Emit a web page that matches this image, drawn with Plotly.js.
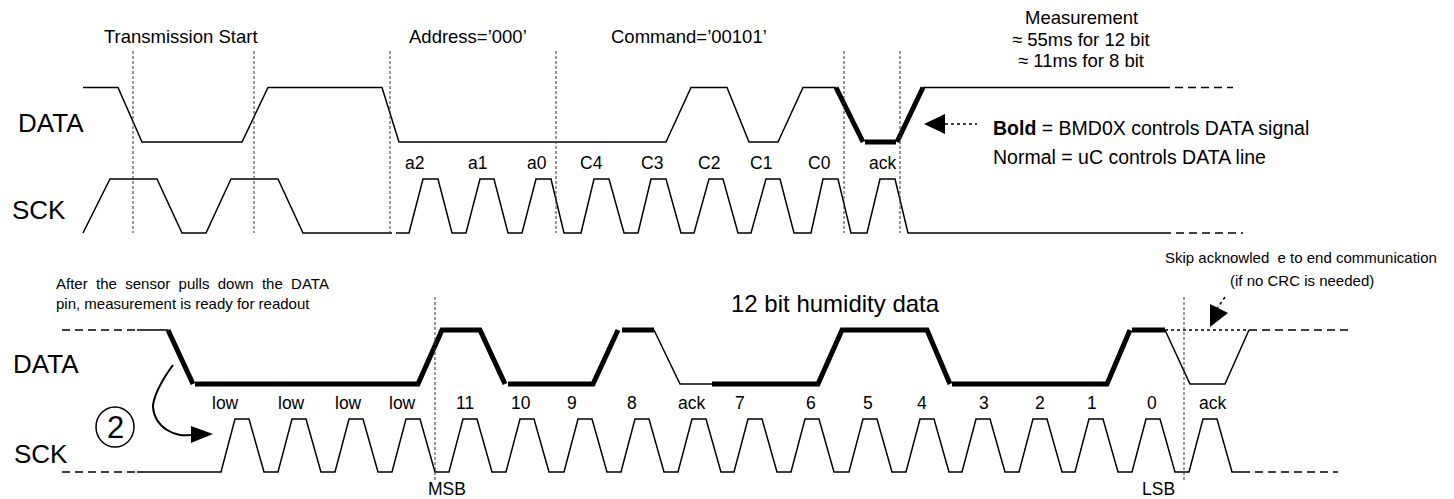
<!DOCTYPE html>
<html><head><meta charset="utf-8">
<script src="https://cdn.plot.ly/plotly-3.0.1.min.js"></script>
<style>html,body{margin:0;padding:0;background:#fff;overflow:hidden}#chart{width:1454px;height:499px}</style>
</head><body><div id="chart"></div>
<script>
// ---------------- DATA (time along the diagram; level 1 = high, 0 = low) ----------------
// Top part: command transmission
const topDataX      = [83,118,142,242,268,382,399,666,691,727,749,778,803,836];
const topDataLvl    = [1,1,0,0,1,1,0,0,1,1,0,0,1,1];
const topDataBoldX  = [836,863,null,865,896,null,897,923];
const topDataBoldLvl= [1,0,null,0,0,null,0,1];
const topDataTailX  = [923,1162];
const topDataTailLvl= [1,1];
const topDataDashX  = [1162,1233];
const topDataDashLvl= [1,1];

const topSckX   = [83,110,157,182,206,231,278,303,392,null,396,409,423,438,452,
                   466,480,494,508, 522,536,551,564, 581,594,609,624, 638,651,666,681,
                   694,709,723,738, 751,766,780,794, 811,823,838,851, 867,880,895,908, 1163];
const topSckLvl = [0,1,1,0,0,1,1,0,0,null,0,0,1,1,0,
                   0,1,1,0, 0,1,1,0, 0,1,1,0, 0,1,1,0,
                   0,1,1,0, 0,1,1,0, 0,1,1,0, 0,1,1,0, 0];
const topSckDashX   = [1163,1243];
const topSckDashLvl = [0,0];

// Bottom part: humidity readout
const botDataDashX   = [62,137,null,1249,1353];
const botDataDashLvl = [1,1,null,1,1];
const botDataThinX   = [137,168,null,654,680,712,null,1165,1190,1225,1249];
const botDataThinLvl = [1,1,null,1,0,0,null,1,0,0,1];
const botDataBoldX   = [168,193,null,195,418,442,480,505,null,508,593,618,null,622,654,null,
                        712,818,842,927,950,null,952,1107,1130,null,1132,1165];
const botDataBoldLvl = [1,0,null,0,0,1,1,0,null,0,0,1,null,1,1,null,
                        0,0,1,1,0,null,0,0,1,null,1,1];
const botDataDotX    = [1165,1249];
const botDataDotLvl  = [1,1];

const botSckX = [137, 221,235,249,264, 278,292,306,321, 335,349,363,378, 392,406,420,435,
                 449,463,477,492, 506,520,534,549, 564,578,592,607, 621,635,649,664,
                 678,692,706,721, 734,748,762,777, 791,805,819,834, 849,863,877,892,
                 906,920,934,949, 962,976,990,1005, 1019,1033,1047,1062, 1075,1089,1103,1118,
                 1132,1146,1160,1175, 1189,1203,1217,1232, 1242];
const botSckLvl = [0, 0,1,1,0, 0,1,1,0, 0,1,1,0, 0,1,1,0,
                   0,1,1,0, 0,1,1,0, 0,1,1,0, 0,1,1,0,
                   0,1,1,0, 0,1,1,0, 0,1,1,0, 0,1,1,0,
                   0,1,1,0, 0,1,1,0, 0,1,1,0, 0,1,1,0,
                   0,1,1,0, 0,1,1,0, 0];
const botSckDashX   = [62,137,null,1242,1338];
const botSckDashLvl = [0,0,null,0,0];

// Bit labels
const topBitLabels = ['a2','a1','a0','C4','C3','C2','C1','C0','ack'];
const topBitX      = [414,477,537,591,652,709,761,819,882];
const botBitLabels = ['low','low','low','low','11','10','9','8','ack','7','6','5','4','3','2','1','0','ack'];
const botBitX      = [225,291,348,402,465,521,572,632,691,740,811,868,922,984,1040,1092,1152,1212];

// Vertical guide times
const topGuideX = [133,254,390,556,844,900];
const botGuideX = [435,1184];

// Arrow / pointer geometry (pixel scale of the annotation axis)
const curveX = [173,163,155,153,157,167,180,191];
const curveY = [365,380,397,407,420,430,435,435];
const curveHeadX = [191,213,191];
const curveHeadY = [426,434,443];
const boldPtrX = [945,977];
const boldPtrY = [124,124];
const boldHeadX = [924,945,945];
const boldHeadY = [124,114,134];
const skipPtrX = [1225,1216];
const skipPtrY = [297,310];
const skipHeadX = [1210,1228,1210];
const skipHeadY = [304,313,327];

// ---------------- LAYOUT ----------------
const W = 1454, H = 499;
const FONT = 'Liberation Sans, Arial, sans-serif';
const PAD = 0.4;
function dom(pLow, pHigh){ const d=(pLow-pHigh)*PAD; return [1-(pLow+d)/H, 1-(pHigh-d)/H]; }
const lvlAxis = d => ({domain:d, range:[-PAD,1+PAD], visible:false, fixedrange:true, anchor:'x'});

const thin = {color:'#000', width:1.5};
const bold = {color:'#000', width:5};
const dash = {color:'#000', width:1.5, dash:'8px,5px'};
const dot  = {color:'#000', width:1.5, dash:'dot'};

function tr(x,y,yaxis,line,extra){ return Object.assign({x:x,y:y,yaxis:yaxis,xaxis:'x',type:'scatter',mode:'lines',line:line,hoverinfo:'skip',showlegend:false,connectgaps:false},extra||{}); }

const traces = [
  tr(topDataX, topDataLvl, 'y', thin),
  tr(topDataBoldX, topDataBoldLvl, 'y', bold),
  tr(topDataTailX, topDataTailLvl, 'y', thin),
  tr(topDataDashX, topDataDashLvl, 'y', dash),
  tr(topSckX, topSckLvl, 'y2', thin),
  tr(topSckDashX, topSckDashLvl, 'y2', dash),
  tr(botDataDashX, botDataDashLvl, 'y3', dash),
  tr(botDataThinX, botDataThinLvl, 'y3', thin),
  tr(botDataBoldX, botDataBoldLvl, 'y3', bold),
  tr(botDataDotX, botDataDotLvl, 'y3', dot),
  tr(botSckX, botSckLvl, 'y4', thin),
  tr(botSckDashX, botSckDashLvl, 'y4', dash),
  tr(curveX, curveY, 'y5', {color:'#000', width:2, shape:'spline'}),
  tr(curveHeadX, curveHeadY, 'y5', {width:0}, {fill:'toself', fillcolor:'#000'}),
  tr(boldPtrX, boldPtrY, 'y5', {color:'#000', width:1.5, dash:'dot'}),
  tr(boldHeadX, boldHeadY, 'y5', {width:0}, {fill:'toself', fillcolor:'#000'}),
  tr(skipPtrX, skipPtrY, 'y5', {color:'#000', width:1.5, dash:'dot'}),
  tr(skipHeadX, skipHeadY, 'y5', {width:0}, {fill:'toself', fillcolor:'#000'})
];

const guideLine = {color:'#333', width:1, dash:'3px,2px'};
const shapes = [];
topGuideX.forEach(x => shapes.push({type:'line', xref:'x', yref:'y5', x0:x, x1:x, y0:51, y1:233, line:guideLine}));
botGuideX.forEach(x => shapes.push({type:'line', xref:'x', yref:'y5', x0:x, x1:x, y0:297, y1:480, line:guideLine}));
shapes.push({type:'circle', xref:'x', yref:'y5', x0:96, x1:134, y0:407, y1:447, line:{color:'#000', width:1.5}});

const ann = [];
function A(text,x,y,size,xa){ ann.push({text:text, x:x, y:y, xref:'x', yref:'y5', showarrow:false, xanchor:xa||'center', yanchor:'middle', font:{family:FONT, size:size, color:'#000'}}); }
A('Transmission Start',181,36,18.5);
A('Address=’000’',468,36,18.5);
A('Command=’00101’',689,36,18.5);
A('Measurement',1081,17,18.5);
A('≈ 55ms for 12 bit',1081,39,18.5);
A('≈ 11ms for 8 bit',1081,60,18.5);
A('DATA',16,123,26,'left');
A('SCK',10,210,26,'left');
A('<b>Bold</b> = BMD0X controls DATA signal',991,128,19.5,'left');
A('Normal = uC controls DATA line',991,157,19.5,'left');
topBitLabels.forEach((t,i)=>A(t,topBitX[i],163,17.5));
A('After&nbsp; the&nbsp; sensor&nbsp; pulls&nbsp; down&nbsp; the&nbsp; DATA',54,283,15,'left');
A('pin, measurement is ready for readout',54,303,15,'left');
A('12 bit humidity data',835,303,24);
A('Skip acknowled&nbsp;&nbsp;e to end communication',1301,257,15);
A('(if no CRC is needed)',1302,280,15);
A('DATA',11,364,26,'left');
A('SCK',12,454,26,'left');
A('2',115,427,31);
botBitLabels.forEach((t,i)=>A(t,botBitX[i],403,17.5));
A('MSB',447,489,17.5);
A('LSB',1158,489,17.5);

const layout = {
  width:W, height:H, autosize:false,
  margin:{l:0,r:0,t:0,b:0,pad:0},
  paper_bgcolor:'#fff', plot_bgcolor:'rgba(0,0,0,0)',
  showlegend:false, hovermode:false,
  xaxis:{range:[0,W], visible:false, fixedrange:true, domain:[0,1]},
  yaxis:  lvlAxis(dom(142,87.5)),
  yaxis2: lvlAxis(dom(233,179)),
  yaxis3: lvlAxis(dom(384,330)),
  yaxis4: lvlAxis(dom(472,419)),
  yaxis5: {domain:[0,1], range:[H,0], visible:false, fixedrange:true, anchor:'x'},
  shapes:shapes,
  annotations:ann
};
Plotly.newPlot('chart', traces, layout, {staticPlot:true, displayModeBar:false});
</script></body></html>
